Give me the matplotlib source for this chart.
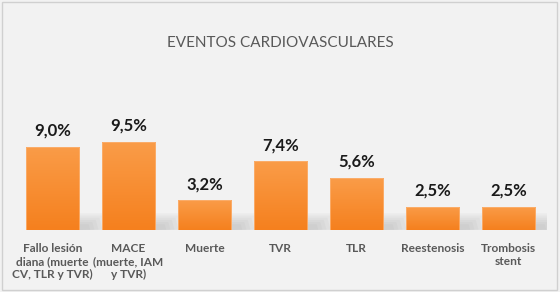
import matplotlib.pyplot as plt
import numpy as np
from matplotlib.colors import LinearSegmentedColormap
from matplotlib.patches import Polygon, Rectangle

categories = ['Fallo lesión\ndiana (muerte\nCV, TLR y TVR)', 'MACE\n(muerte, IAM\ny TVR)',
              'Muerte', 'TVR', 'TLR', 'Reestenosis', 'Trombosis\nstent']
values = [9.0, 9.5, 3.2, 7.4, 5.6, 2.5, 2.5]
labels = ['9,0%', '9,5%', '3,2%', '7,4%', '5,6%', '2,5%', '2,5%']

plt.rcParams['font.family'] = ['Lato', 'DejaVu Sans']

fig = plt.figure(figsize=(5.6, 2.92), dpi=100)
fig.patch.set_facecolor('#f2f2f2')
fig.patches.append(Rectangle((0.004, 0.008), 0.991, 0.984, transform=fig.transFigure,
                             fill=False, edgecolor='#d0d0d0', linewidth=1.0))

ax = fig.add_axes([14.5 / 560, 62 / 292, 532 / 560, 92.6 / 292])
ax.set_facecolor('#f2f2f2')
x = np.arange(len(values))
width = 0.7
ax.set_xlim(-0.5, len(values) - 0.5)
ax.set_ylim(0, 10)

cmap = LinearSegmentedColormap.from_list('orange', ['#f5801e', '#fa9c48'])
grad = np.linspace(0, 1, 100).reshape(-1, 1)
bars = ax.bar(x, values, width=width, color='none', edgecolor='#fbb070', linewidth=0.6, zorder=3)

for xi, v, bar, lab in zip(x, values, bars, labels):
    # soft perspective shadow to the right of each bar
    for k in range(6):
        s = 1 - k * 0.13
        shadow = Polygon([(xi + width / 2, 0), (xi + width / 2 + 0.42 * s, 0.02),
                          (xi + width / 2 + 0.36 * s, min(v, 1.8) * s),
                          (xi + width / 2, min(v, 1.8) * s)],
                         closed=True, facecolor='#808080', edgecolor='none', alpha=0.055, zorder=1)
        ax.add_patch(shadow)
    im = ax.imshow(grad, cmap=cmap, aspect='auto', origin='lower',
                   extent=[xi - width / 2, xi + width / 2, 0, v], zorder=2)
    im.set_clip_path(bar)
    ax.text(xi, v + 0.9, lab, ha='center', va='bottom', fontsize=12,
            fontweight='bold', color='#1a1a1a', clip_on=False)

ax.set_xticks(x)
ax.set_xticklabels(categories, fontsize=8.6, fontweight='bold', color='#595959', linespacing=1.25)
ax.tick_params(axis='x', length=0, pad=9)
ax.set_yticks([])
for s in ax.spines.values():
    s.set_visible(False)

fig.text(0.5, 1 - 43 / 292, 'EVENTOS CARDIOVASCULARES', ha='center', va='center',
         fontsize=11, color='#595959')

fig.savefig('out.png', dpi=100, facecolor=fig.get_facecolor())
